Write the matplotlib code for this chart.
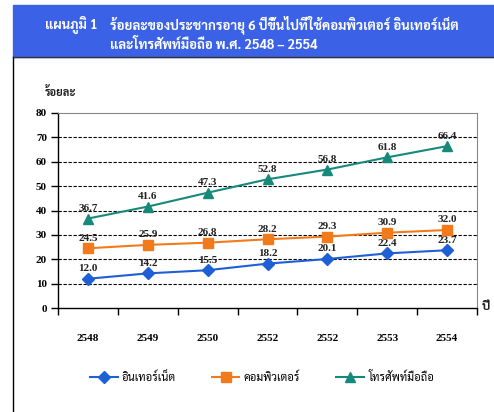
import matplotlib
matplotlib.use("Agg")
import matplotlib.pyplot as plt
from matplotlib.lines import Line2D

thai = ['Sarabun', 'DejaVu Sans']
num_font = ['Liberation Serif', 'DejaVu Serif']

years = ['2548', '2549', '2550', '2552', '2552', '2553', '2554']
internet = [12.0, 14.2, 15.5, 18.2, 20.1, 22.4, 23.7]
computer = [24.5, 25.9, 26.8, 28.2, 29.3, 30.9, 32.0]
mobile = [36.7, 41.6, 47.3, 52.8, 56.8, 61.8, 66.4]
series_names = ['อินเทอร์เน็ต', 'คอมพิวเตอร์', 'โทรศัพท์มือถือ']
colors = ['#1f5fd6', '#f27a1a', '#17897a']
markers = ['D', 's', '^']

fig = plt.figure(figsize=(4.94, 4.12), dpi=100)

# header band
fig.patches.append(plt.Rectangle((13 / 494, 1 - 57 / 412), 1, 52 / 412,
                                 transform=fig.transFigure, color='#3b62e6', zorder=0))
fig.text(45 / 494, 1 - 25 / 412, 'แผนภูมิ 1', color='white', fontsize=9.5,
         fontweight='bold', family=thai, va='center')
fig.text(110 / 494, 1 - 25 / 412, 'ร้อยละของประชากรอายุ 6 ปีขึ้นไปที่ใช้คอมพิวเตอร์ อินเทอร์เน็ต',
         color='white', fontsize=9.5, fontweight='bold', family=thai, va='center')
fig.text(110 / 494, 1 - 45 / 412, 'และโทรศัพท์มือถือ พ.ศ. 2548 – 2554',
         color='white', fontsize=9.5, fontweight='bold', family=thai, va='center')
# box border
fig.lines.append(Line2D([13 / 494, 13 / 494], [0, 1 - 57 / 412], transform=fig.transFigure,
                        color='black', lw=1))
fig.lines.append(Line2D([13 / 494, 1], [1 - 57 / 412, 1 - 57 / 412], transform=fig.transFigure,
                        color='#333333', lw=1))

ax = fig.add_axes([58 / 494, 1 - 308 / 412, 419 / 494, 195 / 412])
x = list(range(len(years)))
for vals, name, c, m in zip([internet, computer, mobile], series_names, colors, markers):
    ax.plot(x, vals, color=c, marker=m, markersize=7 if m != 'D' else 6.5, lw=1.5,
            label=name, zorder=3)
    for xi, v in zip(x, vals):
        ax.annotate(f'{v:.1f}', (xi, v), xytext=(0, 4), textcoords='offset points',
                    ha='center', va='bottom', fontsize=8, fontweight='bold',
                    family=num_font, color='#222222')

ax.set_xlim(-0.5, len(years) - 0.5)
ax.set_ylim(0, 80)
ax.set_yticks(range(0, 81, 10))
ax.set_xticks(x)
ax.set_xticklabels(years)
ax.set_xticks([i - 0.5 for i in range(len(years) + 1)], minor=True)
ax.tick_params(axis='x', which='major', length=0, pad=19)
ax.tick_params(axis='x', which='minor', length=5, width=1, direction='out')
ax.tick_params(axis='y', length=5, width=1, direction='out', pad=3)
for lab in ax.get_xticklabels() + ax.get_yticklabels():
    lab.set_family(num_font)
    lab.set_fontweight('bold')
    lab.set_fontsize(8)
for yv in range(10, 80, 10):
    ax.axhline(yv, color='black', lw=0.8, ls=(0, (3, 1.5)), zorder=1)
for s in ['top', 'right']:
    ax.spines[s].set_color('#888888')
for s in ['left', 'bottom']:
    ax.spines[s].set_color('black')
    ax.spines[s].set_linewidth(1)

fig.text(45 / 494, 1 - 93 / 412, 'ร้อยละ', fontsize=8, fontweight='bold', family=thai,
         va='center', color='#222222')
fig.text(482 / 494, 1 - 306 / 412, 'ปี', fontsize=9, fontweight='bold', family=thai,
         va='center', color='#222222')

fig.legend(loc='center', bbox_to_anchor=(0.53, 1 - 378 / 412), ncol=3, frameon=False,
           prop={'family': thai, 'size': 8}, handlelength=2.5,
           columnspacing=3.2, handletextpad=0.4)

fig.savefig('out.png')
